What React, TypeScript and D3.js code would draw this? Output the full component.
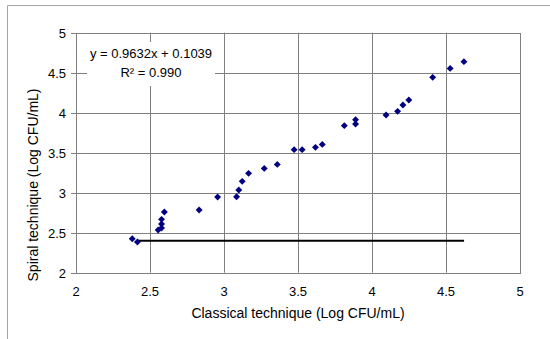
import { useEffect, useRef } from 'react';
import * as d3 from 'd3';

// Classical vs spiral plating counts (Log CFU/mL)
const classical = [
  2.38, 2.415, 2.555, 2.578, 2.578, 2.578, 2.597, 2.832, 2.957, 3.085, 3.1, 3.123, 3.166, 3.272,
  3.36, 3.474, 3.528, 3.618, 3.664, 3.813, 3.889, 3.889, 4.095, 4.173, 4.209, 4.249, 4.41, 4.528,
  4.621,
];
const spiral = [
  2.425, 2.383, 2.533, 2.558, 2.608, 2.667, 2.758, 2.783, 2.946, 2.95, 3.033, 3.142, 3.242, 3.304,
  3.354, 3.538, 3.538, 3.567, 3.604, 3.838, 3.858, 3.913, 3.971, 4.017, 4.096, 4.158, 4.442, 4.554,
  4.638,
];
// detection limit line
const limitY = 2.4;
const limitX = [2.415, 4.622];

const xTicks = [2, 2.5, 3, 3.5, 4, 4.5, 5];
const yTicks = [2, 2.5, 3, 3.5, 4, 4.5, 5];
const equation = ['y = 0.9632x + 0.1039', 'R² = 0.990'];

export default function App() {
  const svgRef = useRef<SVGSVGElement>(null);

  useEffect(() => {
    if (!svgRef.current) return;
    const width = 550;
    const height = 339;
    const svg = d3.select(svgRef.current);
    svg.selectAll('*').remove();

    const x = d3.scaleLinear().domain([2, 5]).range([76, 520]);
    const y = d3.scaleLinear().domain([2, 5]).range([272.7, 32.7]);
    const font = 'Liberation Sans, Arial, sans-serif';
    const grid = '#808080';

    // outer frame (top + left only visible)
    svg.append('path')
      .attr('d', `M7.5,${height} V5.5 H${width}`)
      .attr('fill', 'none')
      .attr('stroke', '#a6a6a6')
      .attr('stroke-width', 1);

    // gridlines
    svg.append('g')
      .selectAll('line')
      .data(yTicks.slice(1, -1))
      .join('line')
      .attr('x1', x(2))
      .attr('x2', x(5))
      .attr('y1', (d) => Math.round(y(d)) + 0.5)
      .attr('y2', (d) => Math.round(y(d)) + 0.5)
      .attr('stroke', grid);
    svg.append('g')
      .selectAll('line')
      .data(xTicks.slice(1, -1))
      .join('line')
      .attr('x1', (d) => Math.round(x(d)) + 0.5)
      .attr('x2', (d) => Math.round(x(d)) + 0.5)
      .attr('y1', y(5))
      .attr('y2', y(2))
      .attr('stroke', grid);

    // plot border
    svg.append('rect')
      .attr('x', Math.round(x(2)) + 0.5)
      .attr('y', Math.round(y(5)) + 0.5)
      .attr('width', Math.round(x(5)) - Math.round(x(2)))
      .attr('height', Math.round(y(2)) - Math.round(y(5)))
      .attr('fill', 'none')
      .attr('stroke', grid);

    // y axis ticks + labels
    const yAxis = svg.append('g');
    yTicks.forEach((t) => {
      const yy = Math.round(y(t)) + 0.5;
      yAxis.append('line').attr('x1', x(2) - 5).attr('x2', x(2)).attr('y1', yy).attr('y2', yy).attr('stroke', grid);
      yAxis.append('text')
        .attr('x', 66)
        .attr('y', yy + 4.5)
        .attr('text-anchor', 'end')
        .style('font-family', font)
        .style('font-size', '13px')
        .text(d3.format('~g')(t));
    });

    // x axis labels
    svg.append('g')
      .selectAll('text')
      .data(xTicks)
      .join('text')
      .attr('x', (d) => x(d))
      .attr('y', 296)
      .attr('text-anchor', 'middle')
      .style('font-family', font)
      .style('font-size', '13px')
      .text((d) => d3.format('~g')(d));

    // equation box
    svg.append('rect')
      .attr('x', 87)
      .attr('y', 42)
      .attr('width', 128)
      .attr('height', 44)
      .attr('fill', '#fff');
    equation.forEach((s, i) => {
      svg.append('text')
        .attr('x', 151)
        .attr('y', 58 + i * 19)
        .attr('text-anchor', 'middle')
        .style('font-family', font)
        .style('font-size', '13px')
        .text(s);
    });

    // limit line
    svg.append('line')
      .attr('x1', x(limitX[0]))
      .attr('x2', x(limitX[1]))
      .attr('y1', y(limitY))
      .attr('y2', y(limitY))
      .attr('stroke', '#000')
      .attr('stroke-width', 2);

    // points (square turned 45deg gives Excel-like diamond)
    const diamond = d3.symbol().type(d3.symbolSquare).size(24);
    svg.append('g')
      .selectAll('path')
      .data(classical.map((c, i) => [c, spiral[i]]))
      .join('path')
      .attr('d', diamond)
      .attr('transform', (d) => `translate(${x(d[0])},${y(d[1])}) rotate(45)`)
      .attr('fill', '#000080');

    // axis titles
    svg.append('text')
      .attr('x', (x(2) + x(5)) / 2)
      .attr('y', 318)
      .attr('text-anchor', 'middle')
      .style('font-family', font)
      .style('font-size', '14px')
      .text('Classical technique (Log CFU/mL)');
    svg.append('text')
      .attr('transform', `translate(38,185) rotate(-90)`)
      .attr('text-anchor', 'middle')
      .style('font-family', font)
      .style('font-size', '14px')
      .text('Spiral technique (Log CFU/mL)');
  }, []);

  return <svg ref={svgRef} width={550} height={339} style={{ position: 'absolute', left: 0, top: 0 }}></svg>;
}
